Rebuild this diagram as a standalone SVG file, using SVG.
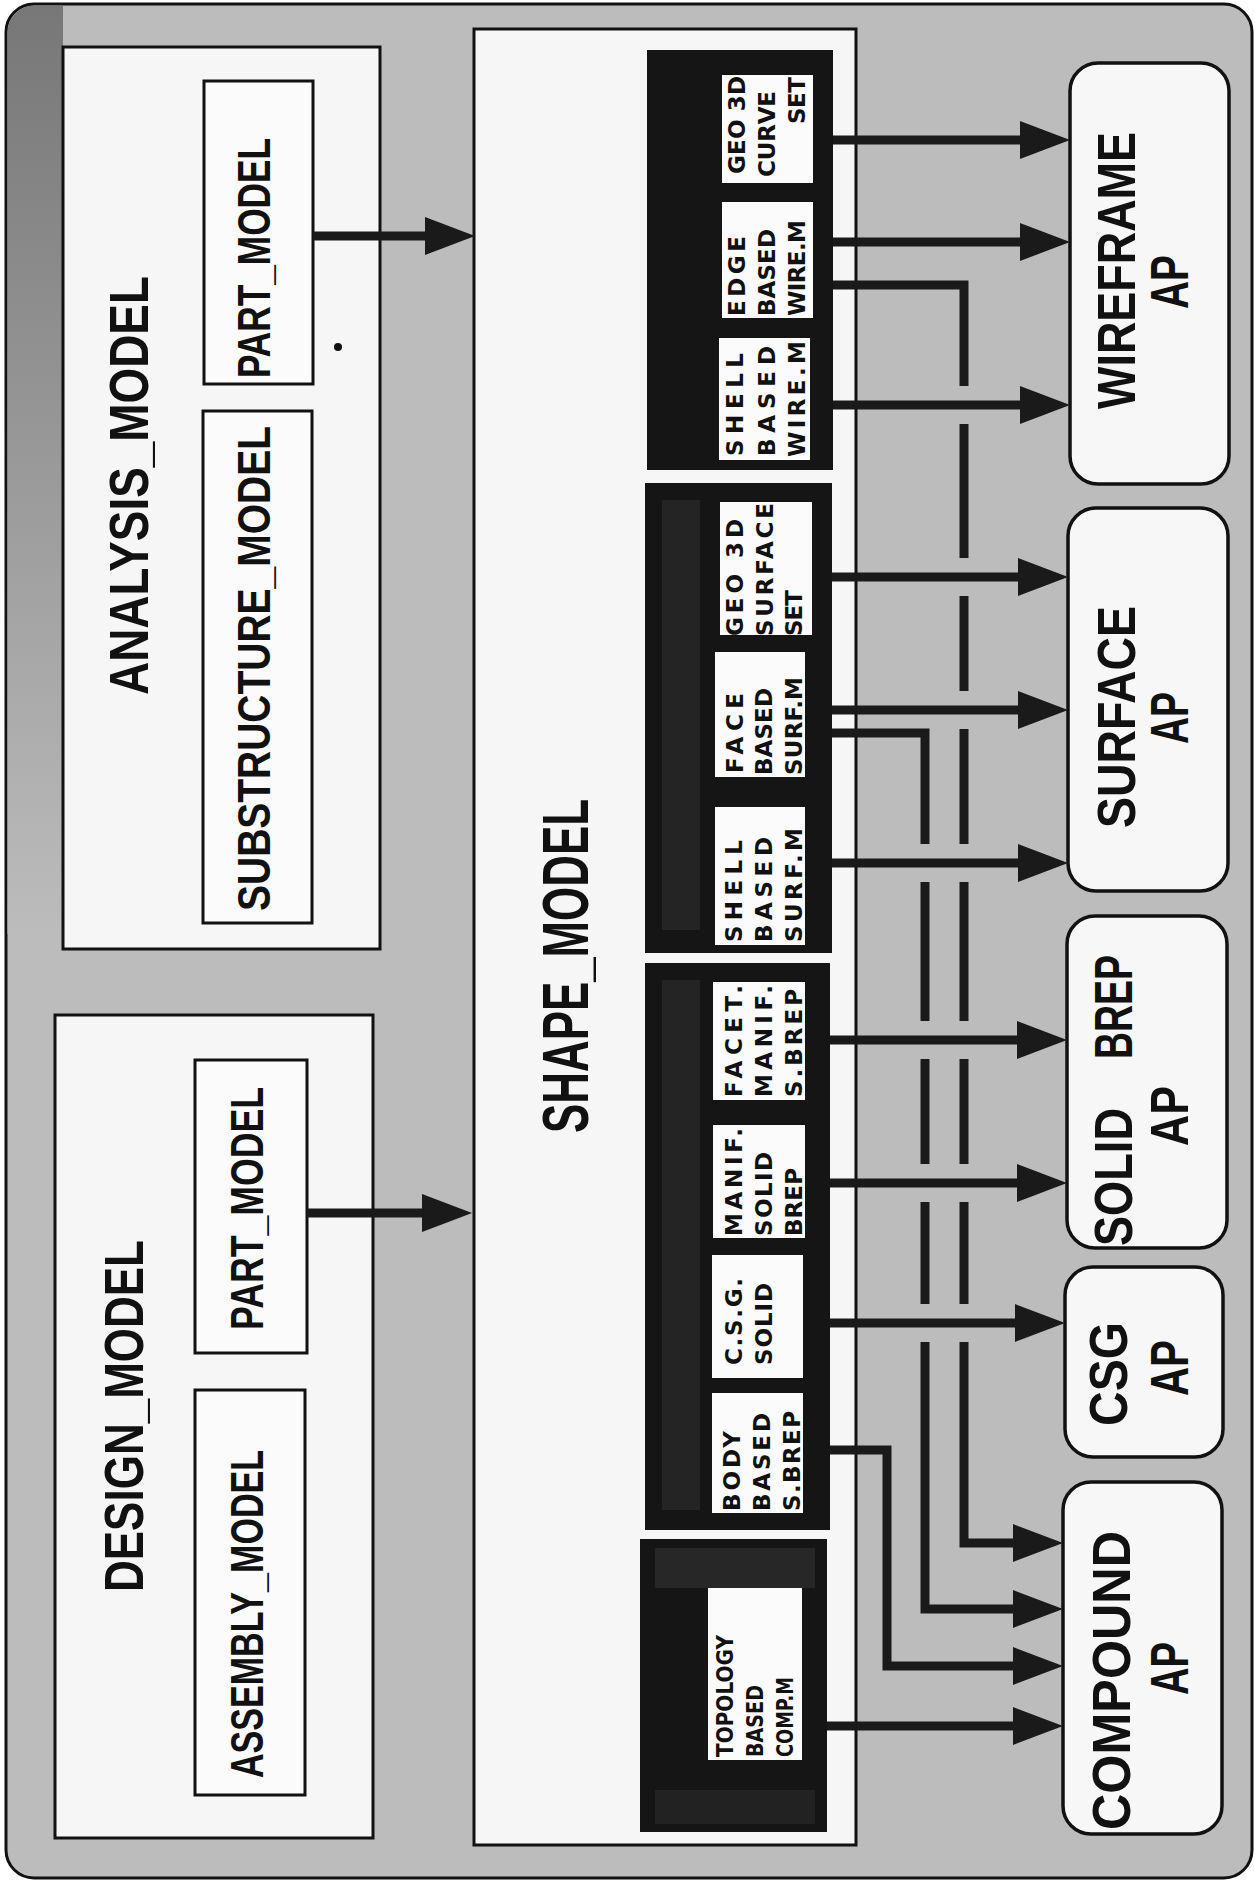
<svg xmlns="http://www.w3.org/2000/svg" width="1255" height="1882" viewBox="0 0 1255 1882">
<style>
.frame{fill:#bcbcbc;stroke:#111;stroke-width:3}
.panel{fill:#f6f6f6;stroke:#111;stroke-width:3}
.ibox{fill:#fbfbfb;stroke:#111;stroke-width:3}
.blk{fill:#151515}
.strip{fill:#4a4a4a}
.wbox{fill:#fbfbfb}
.ap{fill:#f7f7f7;stroke:#111;stroke-width:3.5}
text{font-family:"Liberation Sans",Arial,sans-serif;font-weight:bold;fill:#111}
.big{font-size:56px}
.shape{font-size:64px}
.mid{font-size:46px}
.sm{font-family:"DejaVu Sans","Liberation Sans",sans-serif;font-size:23px}
.apt{font-size:54px}
.ln{fill:none;stroke:#1a1a1a;stroke-width:9;stroke-linejoin:miter}
</style>
<defs>
<marker id="ah" viewBox="0 0 50 38" refX="0" refY="19" markerWidth="50" markerHeight="38" markerUnits="userSpaceOnUse" orient="auto">
<path d="M0,0 L50,19 L0,38 Z" fill="#1a1a1a"/>
</marker>
<linearGradient id="dk" x1="0" y1="0" x2="0" y2="1">
<stop offset="0" stop-color="#777"/>
<stop offset="1" stop-color="#bcbcbc"/>
</linearGradient>
<clipPath id="fc">
<rect x="7.5" y="5.5" width="1243" height="1871" rx="27"/>
</clipPath>
</defs>

<g id="frame">
<rect class="frame" x="6" y="4" width="1246" height="1874" rx="28"/>
<rect x="6" y="4" width="57" height="930" fill="url(#dk)" clip-path="url(#fc)"/>
</g>

<g id="analysis_model">
<rect class="panel" x="63" y="47" width="317" height="902"/>
<text class="big" transform="translate(148,695) rotate(-90)" textLength="419" lengthAdjust="spacingAndGlyphs">ANALYSIS_MODEL</text>
<circle cx="338" cy="347" r="4" fill="#111"/>
</g>
<g id="analysis_part_model">
<rect class="ibox" x="204" y="81" width="109" height="303"/>
<text class="mid" transform="translate(270,378) rotate(-90)" textLength="240" lengthAdjust="spacingAndGlyphs">PART_MODEL</text>
</g>
<g id="substructure_model">
<rect class="ibox" x="203" y="411" width="109" height="512"/>
<text class="mid" transform="translate(270,911) rotate(-90)" textLength="485" lengthAdjust="spacingAndGlyphs">SUBSTRUCTURE_MODEL</text>
</g>

<g id="design_model">
<rect class="panel" x="55" y="1015" width="318" height="823"/>
<text class="big" transform="translate(143,1592) rotate(-90)" textLength="352" lengthAdjust="spacingAndGlyphs">DESIGN_MODEL</text>
</g>
<g id="design_part_model">
<rect class="ibox" x="195" y="1060" width="112" height="293"/>
<text class="mid" transform="translate(263,1330) rotate(-90)" textLength="243" lengthAdjust="spacingAndGlyphs">PART_MODEL</text>
</g>
<g id="assembly_model">
<rect class="ibox" x="195" y="1390" width="110" height="405"/>
<text class="mid" transform="translate(263,1778) rotate(-90)" textLength="328" lengthAdjust="spacingAndGlyphs">ASSEMBLY_MODEL</text>
</g>

<g id="shape_model">
<rect class="panel" x="474" y="29" width="382" height="1816"/>
<text class="shape" transform="translate(588,1133) rotate(-90)" textLength="334" lengthAdjust="spacingAndGlyphs">SHAPE_MODEL</text>
</g>

<g id="wireframe_block">
<rect class="blk" x="647" y="50" width="186" height="420"/>
</g>
<g id="surface_block">
<rect class="blk" x="645" y="483" width="187" height="470"/>
<rect class="strip" x="662" y="500" width="38" height="430" opacity="0.3"/>
</g>
<g id="solid_block">
<rect class="blk" x="645" y="963" width="185" height="567"/>
<rect class="strip" x="662" y="980" width="38" height="530" opacity="0.3"/>
</g>
<g id="compound_block">
<rect class="blk" x="640" y="1539" width="187" height="293"/>
<rect class="strip" x="655" y="1548" width="160" height="40" opacity="0.35"/>
<rect class="strip" x="655" y="1790" width="160" height="34" opacity="0.25"/>
</g>

<g id="geo_3d_curve_set">
<rect class="wbox" x="722" y="75" width="91" height="108"/>
<text class="sm" transform="translate(745,174) rotate(-90)" textLength="98" lengthAdjust="spacing">GEO 3D</text>
<text class="sm" transform="translate(775,177) rotate(-90)" textLength="86" lengthAdjust="spacing">CURVE</text>
<text class="sm" transform="translate(805,124) rotate(-90)" textLength="47" lengthAdjust="spacing">SET</text>
</g>
<g id="edge_based_wire_m">
<rect class="wbox" x="722" y="202" width="91" height="116"/>
<text class="sm" transform="translate(745,316) rotate(-90)" textLength="80" lengthAdjust="spacing">EDGE</text>
<text class="sm" transform="translate(775,316) rotate(-90)" textLength="87" lengthAdjust="spacing">BASED</text>
<text class="sm" transform="translate(805,316) rotate(-90)" textLength="96" lengthAdjust="spacing">WIRE.M</text>
</g>
<g id="shell_based_wire_m">
<rect class="wbox" x="719" y="338" width="91" height="122"/>
<text class="sm" transform="translate(743,456) rotate(-90)" textLength="103" lengthAdjust="spacing">SHELL</text>
<text class="sm" transform="translate(775,456) rotate(-90)" textLength="110" lengthAdjust="spacing">BASED</text>
<text class="sm" transform="translate(805,457) rotate(-90)" textLength="116" lengthAdjust="spacing">WIRE.M</text>
</g>

<g id="geo_3d_surface_set">
<rect class="wbox" x="720" y="502" width="92" height="133"/>
<text class="sm" transform="translate(743,636) rotate(-90)" textLength="117" lengthAdjust="spacing">GEO 3D</text>
<text class="sm" transform="translate(773,636) rotate(-90)" textLength="133" lengthAdjust="spacing">SURFACE</text>
<text class="sm" transform="translate(802,636) rotate(-90)" textLength="46" lengthAdjust="spacing">SET</text>
</g>
<g id="face_based_surf_m">
<rect class="wbox" x="715" y="652" width="90" height="125"/>
<text class="sm" transform="translate(743,773) rotate(-90)" textLength="80" lengthAdjust="spacing">FACE</text>
<text class="sm" transform="translate(772,775) rotate(-90)" textLength="87" lengthAdjust="spacing">BASED</text>
<text class="sm" transform="translate(802,775) rotate(-90)" textLength="98" lengthAdjust="spacing">SURF.M</text>
</g>
<g id="shell_based_surf_m">
<rect class="wbox" x="715" y="807" width="90" height="138"/>
<text class="sm" transform="translate(742,942) rotate(-90)" textLength="102" lengthAdjust="spacing">SHELL</text>
<text class="sm" transform="translate(772,942) rotate(-90)" textLength="105" lengthAdjust="spacing">BASED</text>
<text class="sm" transform="translate(802,942) rotate(-90)" textLength="114" lengthAdjust="spacing">SURF.M</text>
</g>

<g id="facet_manif_s_brep">
<rect class="wbox" x="713" y="982" width="92" height="118"/>
<text class="sm" transform="translate(742,1097) rotate(-90)" textLength="112" lengthAdjust="spacing">FACET.</text>
<text class="sm" transform="translate(772,1097) rotate(-90)" textLength="112" lengthAdjust="spacing">MANIF.</text>
<text class="sm" transform="translate(802,1097) rotate(-90)" textLength="108" lengthAdjust="spacing">S.BREP</text>
</g>
<g id="manif_solid_brep">
<rect class="wbox" x="713" y="1125" width="92" height="113"/>
<text class="sm" transform="translate(742,1236) rotate(-90)" textLength="108" lengthAdjust="spacing">MANIF.</text>
<text class="sm" transform="translate(772,1236) rotate(-90)" textLength="84" lengthAdjust="spacing">SOLID</text>
<text class="sm" transform="translate(802,1236) rotate(-90)" textLength="68" lengthAdjust="spacing">BREP</text>
</g>
<g id="csg_solid">
<rect class="wbox" x="712" y="1255" width="91" height="123"/>
<text class="sm" transform="translate(742,1365) rotate(-90)" textLength="87" lengthAdjust="spacing">C.S.G.</text>
<text class="sm" transform="translate(772,1365) rotate(-90)" textLength="82" lengthAdjust="spacing">SOLID</text>
</g>
<g id="body_based_s_brep">
<rect class="wbox" x="712" y="1393" width="91" height="120"/>
<text class="sm" transform="translate(740,1511) rotate(-90)" textLength="80" lengthAdjust="spacing">BODY</text>
<text class="sm" transform="translate(770,1511) rotate(-90)" textLength="98" lengthAdjust="spacing">BASED</text>
<text class="sm" transform="translate(800,1511) rotate(-90)" textLength="100" lengthAdjust="spacing">S.BREP</text>
</g>

<g id="topology_based_comp_m">
<rect class="wbox" x="708" y="1588" width="94" height="172"/>
<text class="sm" transform="translate(733,1757) rotate(-90)" textLength="122" lengthAdjust="spacingAndGlyphs">TOPOLOGY</text>
<text class="sm" transform="translate(763,1757) rotate(-90)" textLength="72" lengthAdjust="spacingAndGlyphs">BASED</text>
<text class="sm" transform="translate(793,1757) rotate(-90)" textLength="80" lengthAdjust="spacingAndGlyphs">COMP.M</text>
</g>

<g id="wireframe_ap">
<rect class="ap" x="1070" y="63" width="159" height="421" rx="28"/>
<text class="apt" transform="translate(1135,409) rotate(-90)" textLength="277" lengthAdjust="spacingAndGlyphs">WIREFRAME</text>
<text class="apt" transform="translate(1188,309) rotate(-90)" textLength="54" lengthAdjust="spacingAndGlyphs">AP</text>
</g>
<g id="surface_ap">
<rect class="ap" x="1068" y="508" width="160" height="383" rx="28"/>
<text class="apt" transform="translate(1135,828) rotate(-90)" textLength="222" lengthAdjust="spacingAndGlyphs">SURFACE</text>
<text class="apt" transform="translate(1188,744) rotate(-90)" textLength="52" lengthAdjust="spacingAndGlyphs">AP</text>
</g>
<g id="solid_brep_ap">
<rect class="ap" x="1067" y="916" width="160" height="332" rx="28"/>
<text class="apt" transform="translate(1132,1246) rotate(-90)" textLength="138" lengthAdjust="spacingAndGlyphs">SOLID</text>
<text class="apt" transform="translate(1132,1059) rotate(-90)" textLength="104" lengthAdjust="spacingAndGlyphs">BREP</text>
<text class="apt" transform="translate(1188,1146) rotate(-90)" textLength="60" lengthAdjust="spacingAndGlyphs">AP</text>
</g>
<g id="csg_ap">
<rect class="ap" x="1065" y="1267" width="158" height="190" rx="28"/>
<text class="apt" transform="translate(1127,1426) rotate(-90)" textLength="104" lengthAdjust="spacingAndGlyphs">CSG</text>
<text class="apt" transform="translate(1188,1396) rotate(-90)" textLength="56" lengthAdjust="spacingAndGlyphs">AP</text>
</g>
<g id="compound_ap">
<rect class="ap" x="1063" y="1482" width="159" height="352" rx="28"/>
<text class="apt" transform="translate(1130,1830) rotate(-90)" textLength="299" lengthAdjust="spacingAndGlyphs">COMPOUND</text>
<text class="apt" transform="translate(1188,1695) rotate(-90)" textLength="53" lengthAdjust="spacingAndGlyphs">AP</text>
</g>

<g id="connectors">
<path class="ln" d="M313,236 H425" marker-end="url(#ah)"/>
<path class="ln" d="M307,1213 H422" marker-end="url(#ah)"/>
<path class="ln" d="M833,140 H1020" marker-end="url(#ah)"/>
<path class="ln" d="M833,242 H1020" marker-end="url(#ah)"/>
<path class="ln" d="M833,405 H1020" marker-end="url(#ah)"/>
<path class="ln" d="M833,285 H964 V386 M964,424 V558 M964,596 V691 M964,729 V844 M964,882 V1021 M964,1059 V1164 M964,1202 V1304 M964,1342 V1543 H1013" marker-end="url(#ah)"/>
<path class="ln" d="M832,577 H1018" marker-end="url(#ah)"/>
<path class="ln" d="M832,710 H1018" marker-end="url(#ah)"/>
<path class="ln" d="M832,863 H1018" marker-end="url(#ah)"/>
<path class="ln" d="M832,733 H925 V844 M925,882 V1021 M925,1059 V1164 M925,1202 V1304 M925,1342 V1609 H1013" marker-end="url(#ah)"/>
<path class="ln" d="M830,1040 H1017" marker-end="url(#ah)"/>
<path class="ln" d="M830,1183 H1017" marker-end="url(#ah)"/>
<path class="ln" d="M830,1323 H1015" marker-end="url(#ah)"/>
<path class="ln" d="M830,1450 H887 V1666 H1013" marker-end="url(#ah)"/>
<path class="ln" d="M827,1726 H1013" marker-end="url(#ah)"/>
</g>
</svg>
